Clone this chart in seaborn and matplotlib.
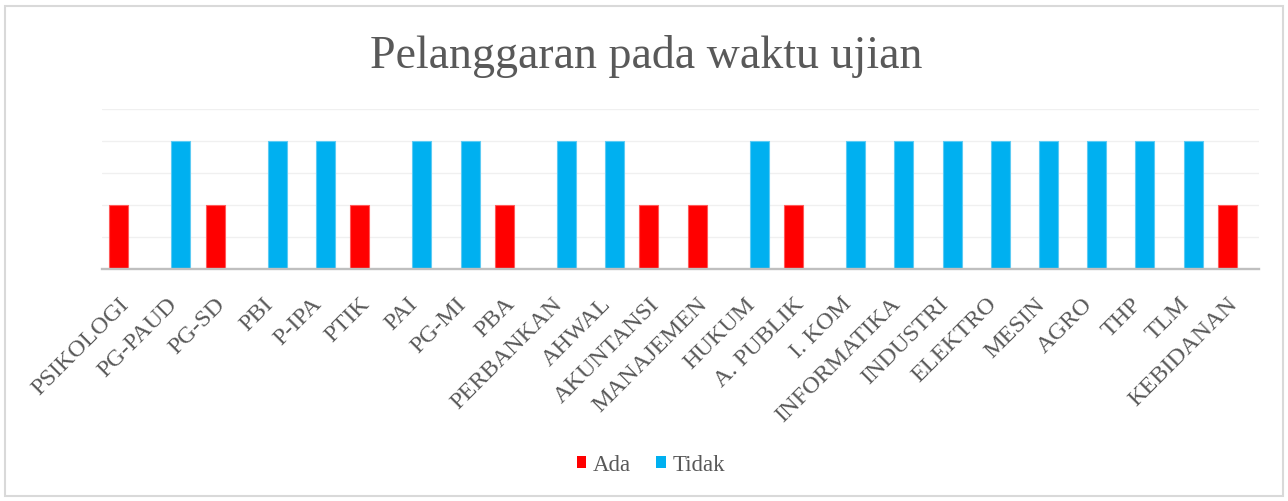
import matplotlib
matplotlib.use("Agg")
import matplotlib.pyplot as plt
from matplotlib.patches import Rectangle, Patch
import seaborn as sns
import pandas as pd

# ---- data ----
categories = ["PSIKOLOGI", "PG-PAUD", "PG-SD", "PBI", "P-IPA", "PTIK", "PAI", "PG-MI",
              "PBA", "PERBANKAN", "AHWAL", "AKUNTANSI", "MANAJEMEN", "HUKUM", "A. PUBLIK",
              "I. KOM", "INFORMATIKA", "INDUSTRI", "ELEKTRO", "MESIN", "AGRO", "THP", "TLM",
              "KEBIDANAN"]
ada   = [2, 0, 2, 0, 0, 2, 0, 0, 2, 0, 0, 2, 2, 0, 2, 0, 0, 0, 0, 0, 0, 0, 0, 2]
tidak = [0, 4, 0, 4, 4, 0, 4, 4, 0, 4, 4, 0, 0, 4, 0, 4, 4, 4, 4, 4, 4, 4, 4, 0]
series = ["Ada", "Tidak"]
title = "Pelanggaran pada waktu ujian"

rows = []
for c, a, t in zip(categories, ada, tidak):
    if a:
        rows.append({"Prodi": c, "Status": "Ada", "Jumlah": a})
    if t:
        rows.append({"Prodi": c, "Status": "Tidak", "Jumlah": t})
df = pd.DataFrame(rows)

colors = {"Ada": "#FF0000", "Tidak": "#00B0F0"}
edges = {"Ada": "#FF5A5A", "Tidak": "#5CCBF4"}
text_col = "#595959"

sns.set_style("white")
plt.rcParams["font.family"] = ["Liberation Serif", "DejaVu Serif"]

fig = plt.figure(figsize=(12.88, 5.02), dpi=100)
ax = fig.add_axes([101.5 / 1288, 1 - 270 / 502, (1258.5 - 101.5) / 1288, 160 / 502])

sns.barplot(data=df, x="Prodi", y="Jumlah", hue="Status", order=categories,
            hue_order=series, palette=colors, width=0.577, dodge=True,
            legend=False, ax=ax, saturation=1, linewidth=0)

# widen bars to Excel-like width while keeping dodge centres
bar_w = 0.394
for cont, s in zip(ax.containers, series):
    for b in cont:
        cx = b.get_x() + b.get_width() / 2
        b.set_width(bar_w)
        b.set_x(cx - bar_w / 2)
        b.set_edgecolor(edges[s])
        b.set_linewidth(0.8)

ax.set_xlim(-0.5, len(categories) - 0.5)
ax.set_ylim(0, 5)
ax.set_yticks(range(0, 6))
ax.set_yticklabels([])
ax.yaxis.grid(True, color="#F0F0F0", linewidth=1.0)
ax.set_axisbelow(True)
for sp in ["left", "right", "top"]:
    ax.spines[sp].set_visible(False)
ax.spines["bottom"].set_color("#BFBFBF")
ax.spines["bottom"].set_linewidth(1.7)
ax.spines["bottom"].set_zorder(5)
ax.tick_params(axis="y", length=0)
ax.tick_params(axis="x", length=0, pad=22.5)
ax.set_xlabel("")
ax.set_ylabel("")
ax.set_xticks(range(len(categories)))
ax.set_xticklabels(categories, rotation=45, ha="right", va="center",
                   rotation_mode="anchor", fontsize=17.5, color=text_col)

fig.text(0.5015, 1 - 56 / 502, title, ha="center", va="center",
         fontsize=33, color=text_col)

handles = [Patch(facecolor=colors[s], edgecolor="none", label=s) for s in series]
leg = fig.legend(handles=handles, loc="center", bbox_to_anchor=(651 / 1288, 1 - 466 / 502),
                 ncol=2, frameon=False, fontsize=16.5, handlelength=0.42, handleheight=0.42,
                 handletextpad=0.3, columnspacing=1.1, labelcolor=text_col)

fig.patches.append(Rectangle((5 / 1288, 5 / 502), 1278 / 1288, 490 / 502,
                             transform=fig.transFigure, fill=False,
                             edgecolor="#D9D9D9", linewidth=1.5))

fig.savefig("out.png", dpi=100, facecolor="white")
